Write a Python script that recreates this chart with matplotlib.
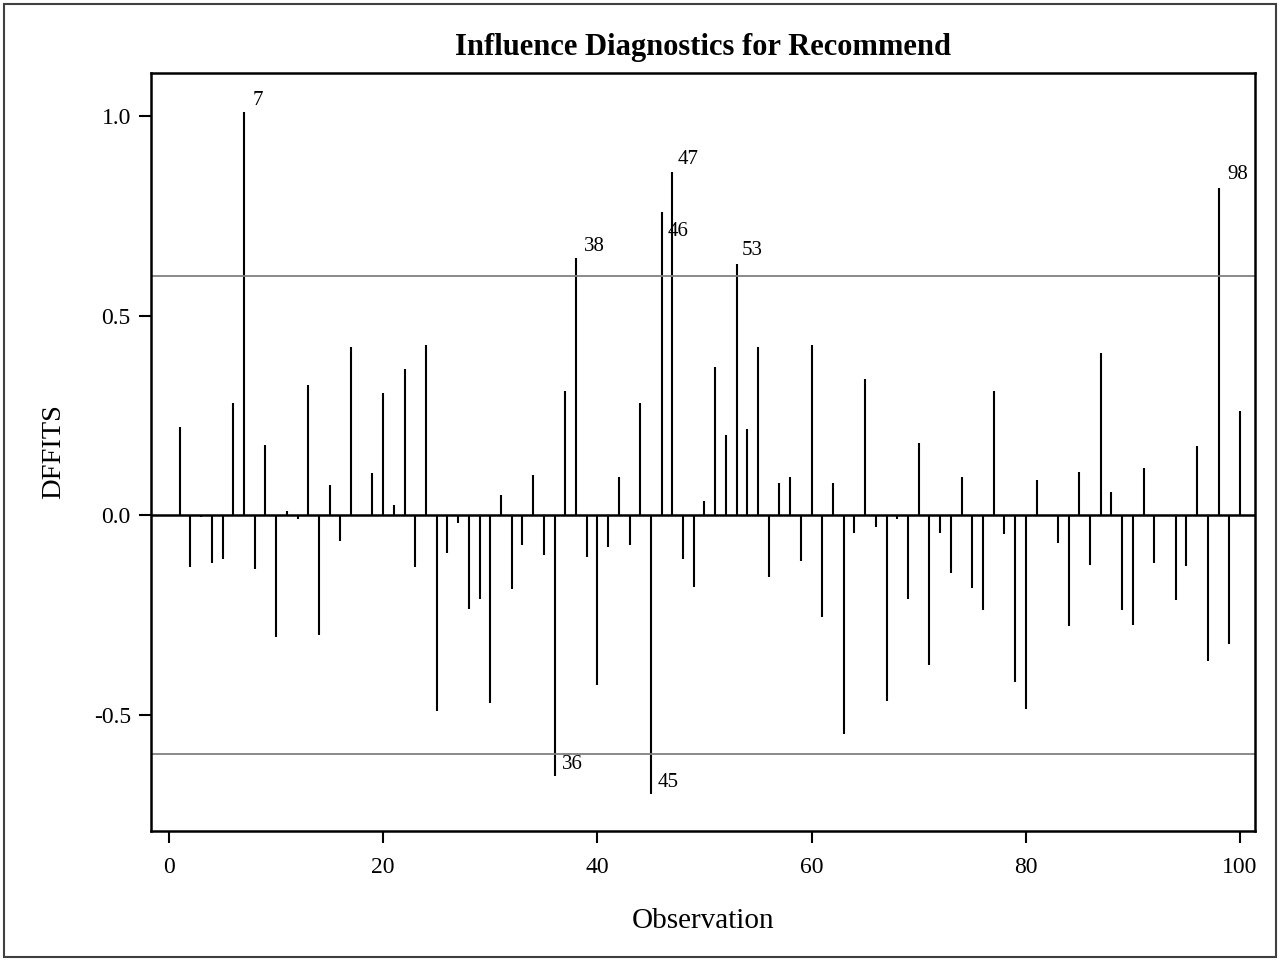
import matplotlib
matplotlib.use("Agg")
import matplotlib.pyplot as plt
from matplotlib.patches import Rectangle

# DFFITS per observation
observation = list(range(1, 101))
dffits = [
    0.22, -0.13, -0.005, -0.12, -0.11, 0.28, 1.01, -0.135, 0.175, -0.305,
    0.01, -0.01, 0.325, -0.30, 0.075, -0.065, 0.42, 0.0, 0.105, 0.305,
    0.025, 0.365, -0.13, 0.425, -0.49, -0.095, -0.02, -0.235, -0.21, -0.47,
    0.05, -0.185, -0.075, 0.10, -0.10, -0.655, 0.31, 0.645, -0.105, -0.425,
    -0.08, 0.095, -0.075, 0.28, -0.70, 0.76, 0.86, -0.11, -0.18, 0.035,
    0.37, 0.20, 0.63, 0.215, 0.42, -0.155, 0.08, 0.095, -0.115, 0.425,
    -0.255, 0.08, -0.55, -0.045, 0.34, -0.03, -0.465, -0.01, -0.21, 0.18,
    -0.375, -0.045, -0.145, 0.095, -0.183, -0.238, 0.31, -0.048, -0.418, -0.487,
    0.087, 0.0, -0.071, -0.278, 0.107, -0.124, 0.405, 0.057, -0.238, -0.275,
    0.117, -0.121, 0.0, -0.213, -0.129, 0.174, -0.366, 0.819, -0.324, 0.26,
]
cutoff = 0.6
flagged = [7, 36, 38, 45, 46, 47, 53, 98]

# label placement relative to the needle end, in points (dx, dy, va)
label_offset = {7: (6, 5, 'baseline'), 36: (5, 5, 'baseline'), 38: (6, 5, 'baseline'),
                45: (5, 5, 'baseline'), 46: (4, -7, 'top'), 47: (4, 6, 'baseline'),
                53: (4, 6, 'baseline'), 98: (6, 7, 'baseline')}

plt.rcParams['font.family'] = ['Liberation Serif', 'DejaVu Serif']

fig = plt.figure(figsize=(12.8, 9.61), dpi=100)
ax = fig.add_axes([151 / 1280, 1 - 831 / 961, (1255 - 151) / 1280, (831 - 73) / 961])

ax.vlines(observation, 0, dffits, colors='black', linewidth=1.5)
ax.axhline(0, color='black', linewidth=1.8)
ax.axhline(cutoff, color='#808080', linewidth=1.3)
ax.axhline(-cutoff, color='#808080', linewidth=1.3)

for obs in flagged:
    val = dffits[obs - 1]
    dx, dy, va = label_offset[obs]
    ax.annotate(str(obs), (obs, val), xytext=(dx, dy), textcoords='offset points',
                fontsize=15, ha='left', va=va)

ax.set_xlim(-1.68, 101.4)
ax.set_ylim(-0.792, 1.108)
ax.set_xticks([0, 20, 40, 60, 80, 100])
ax.set_yticks([-0.5, 0.0, 0.5, 1.0])
ax.set_yticklabels(['-0.5', '0.0', '0.5', '1.0'])
ax.tick_params(direction='out', length=8.5, width=1.5, labelsize=17)
ax.tick_params(axis='x', pad=10)
ax.tick_params(axis='y', pad=6)
for spine in ax.spines.values():
    spine.set_linewidth(1.8)

ax.set_xlabel('Observation', fontsize=21, labelpad=22)
ax.set_ylabel('DFFITS', fontsize=20.5, labelpad=20)
ax.set_title('Influence Diagnostics for Recommend', fontsize=22, fontweight='bold', pad=13)

fig.patches.append(Rectangle((4 / 1280, 4 / 961), 1272 / 1280, 953 / 961, transform=fig.transFigure,
                             fill=False, edgecolor='#404040', linewidth=1.5))

fig.savefig('out.png', dpi=100)
